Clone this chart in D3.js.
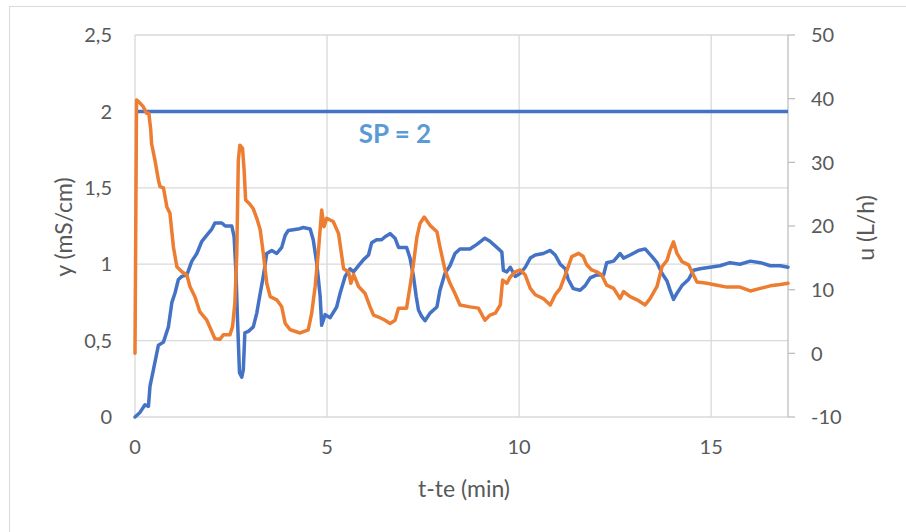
<!DOCTYPE html>
<html>
<head>
<meta charset="utf-8">
<script src="https://cdnjs.cloudflare.com/ajax/libs/d3/7.8.5/d3.min.js"></script>
<style>
	body { margin: 0; background: #fff; }
	text { font-family: Lato, 'Open Sans', sans-serif; fill: #595959; }
</style>
</head>
<body>
<div id="chart"><svg width="906" height="532"></svg></div>
<script>
// time (min) and conductivity y (mS/cm), left axis
var yTime = [0,0.13,0.26,0.35,0.39,0.48,0.61,0.74,0.87,0.96,
	1.04,1.13,1.22,1.35,1.48,1.61,1.74,1.87,2.0,2.08,
	2.26,2.35,2.52,2.58,2.63,2.67,2.72,2.78,2.82,2.86,
	2.95,3.08,3.17,3.26,3.34,3.43,3.56,3.69,3.82,3.91,
	3.99,4.25,4.38,4.56,4.64,4.73,4.82,4.86,4.95,5.08,
	5.25,5.34,5.47,5.6,5.69,5.82,5.95,6.08,6.16,6.29,
	6.42,6.51,6.64,6.77,6.86,7.07,7.16,7.25,7.32,7.38,
	7.46,7.55,7.68,7.86,7.94,8.07,8.2,8.33,8.46,8.72,
	8.9,9.11,9.24,9.42,9.55,9.59,9.68,9.77,9.9,10.03,
	10.16,10.29,10.42,10.63,10.81,10.94,11.07,11.2,11.28,11.41,
	11.59,11.72,11.85,12.02,12.2,12.28,12.46,12.63,12.72,12.89,
	13.11,13.28,13.46,13.59,13.72,13.85,13.93,14.02,14.11,14.24,
	14.41,14.54,14.71,14.97,15.23,15.49,15.75,16.02,16.28,16.54,
	16.8,17.0];
var yValues = [0,0.03,0.08,0.07,0.2,0.31,0.47,0.49,0.59,0.75,
	0.81,0.9,0.92,0.93,1.02,1.07,1.15,1.19,1.23,1.27,
	1.27,1.25,1.25,1.18,0.94,0.63,0.29,0.26,0.31,0.55,
	0.56,0.59,0.68,0.81,0.92,1.07,1.09,1.07,1.11,1.19,
	1.22,1.23,1.24,1.23,1.16,1.01,0.79,0.6,0.67,0.65,
	0.72,0.81,0.92,0.97,0.95,0.99,1.03,1.06,1.14,1.16,
	1.16,1.18,1.2,1.17,1.11,1.11,1.04,0.92,0.79,0.7,
	0.66,0.63,0.68,0.72,0.83,0.94,0.99,1.07,1.1,1.1,
	1.13,1.17,1.15,1.11,1.08,0.96,0.95,0.98,0.92,0.94,
	0.98,1.04,1.06,1.07,1.09,1.06,1.0,0.97,0.9,0.84,
	0.83,0.86,0.91,0.93,0.93,1.01,1.02,1.07,1.04,1.06,
	1.09,1.1,1.05,1.01,0.94,0.89,0.83,0.77,0.81,0.86,
	0.9,0.96,0.97,0.98,0.99,1.01,1.0,1.02,1.01,0.99,
	0.99,0.98];

// time (min) and flow u (L/h), right axis
var uTime = [0,0.04,0.1,0.22,0.3,0.36,0.41,0.43,0.52,0.61,
	0.65,0.74,0.83,0.91,1.0,1.09,1.22,1.35,1.43,1.56,
	1.69,1.87,1.95,2.08,2.21,2.3,2.47,2.54,2.6,2.65,
	2.69,2.73,2.8,2.84,2.88,2.98,3.08,3.17,3.26,3.34,
	3.43,3.52,3.69,3.82,3.91,4.04,4.3,4.51,4.6,4.69,
	4.77,4.86,4.92,4.99,5.16,5.3,5.43,5.56,5.62,5.69,
	5.82,5.99,6.12,6.21,6.34,6.51,6.64,6.77,6.86,7.07,
	7.16,7.25,7.34,7.42,7.53,7.68,7.86,7.94,8.07,8.2,
	8.33,8.46,8.72,8.94,9.11,9.24,9.38,9.51,9.57,9.68,
	9.77,9.9,10.03,10.16,10.29,10.42,10.63,10.81,10.94,11.07,
	11.2,11.37,11.55,11.67,11.76,11.89,12.02,12.15,12.28,12.46,
	12.63,12.72,12.89,13.07,13.28,13.41,13.59,13.72,13.85,13.93,
	14.02,14.11,14.24,14.41,14.54,14.63,14.89,15.15,15.41,15.75,
	16.02,16.28,16.54,16.8,17.0];
var uValues = [0,39.8,39.5,38.7,37.7,37.7,35.1,33,30.3,27.2,
	26.2,26,23,22,16.7,13.6,12.8,12.3,10.5,8.9,
	6.5,5.2,4.1,2.3,2.2,2.9,2.9,4.2,7.9,15.7,
	30.3,32.7,32.2,28.8,24.1,23.5,22.7,21.2,19.4,15.7,
	11,8.9,8.4,7.3,4.7,3.7,3.2,3.7,6.3,10.5,
	15.7,22.5,19.9,21.2,20.7,18.8,13.3,12.8,11,12.4,
	10.5,9.4,7.3,6,5.7,5.2,4.7,5.2,7.1,7.1,
	10.5,14.1,18.3,20.4,21.4,20.1,19.1,16.7,13.1,11,
	9.4,7.6,7.3,7.1,5.2,6,6.3,7.6,11.5,11,
	12,12.8,13.1,12.3,10.2,9.2,8.6,7.6,9.2,10.2,
	12.3,15.2,15.7,15.2,13.9,13.1,12.8,12.3,10.7,10.2,
	8.6,9.7,8.9,8.4,7.6,8.6,10.5,13.6,14.6,16.2,
	17.5,15.7,14.4,13.9,12.3,11.2,11,10.7,10.4,10.4,
	9.8,10.2,10.6,10.8,11];

var setPoint = 2;
var xTicks = [0, 5, 10, 15];
var yTicks = [0, 0.5, 1, 1.5, 2, 2.5];
var uTicks = [-10, 0, 10, 20, 30, 40, 50];

var svg = d3.select('#chart > svg');
var margin = { top: 35, left: 135, bottom: 115, right: 118 };
var width = 906 - margin.left - margin.right;
var height = 532 - margin.top - margin.bottom;

// outer chart border
svg.append('rect')
	.attr('x', 9.5).attr('y', 6.5)
	.attr('width', 920).attr('height', 540)
	.attr('fill', 'none')
	.attr('stroke', '#d9d9d9');

var xScale = d3.scaleLinear().domain([0, 17]).range([0, width]);
var yScale = d3.scaleLinear().domain([0, 2.5]).range([height, 0]);
var uScale = d3.scaleLinear().domain([-10, 50]).range([height, 0]);

var group = svg.append('g')
	.attr('transform', 'translate(' + [margin.left, margin.top] + ')');

// grids
group.selectAll('.y.grid')
	.data(yTicks)
	.enter().append('line')
	.attr('class', 'y grid')
	.attr('x1', 0).attr('x2', width)
	.attr('y1', function(d) { return yScale(d) })
	.attr('y2', function(d) { return yScale(d) })
	.attr('stroke', '#d9d9d9')
	.attr('stroke-width', 1.3);
group.selectAll('.x.grid')
	.data(xTicks)
	.enter().append('line')
	.attr('class', 'x grid')
	.attr('x1', function(d) { return xScale(d) })
	.attr('x2', function(d) { return xScale(d) })
	.attr('y1', 0).attr('y2', height)
	.attr('stroke', '#d9d9d9')
	.attr('stroke-width', 1.3);

// right axis line with ticks
group.append('line')
	.attr('x1', width).attr('x2', width)
	.attr('y1', 0).attr('y2', height)
	.attr('stroke', '#bfbfbf')
	.attr('stroke-width', 1.3);
group.selectAll('.u.tick')
	.data(uTicks)
	.enter().append('line')
	.attr('class', 'u tick')
	.attr('x1', width).attr('x2', width + 7)
	.attr('y1', function(d) { return uScale(d) })
	.attr('y2', function(d) { return uScale(d) })
	.attr('stroke', '#bfbfbf')
	.attr('stroke-width', 1.3);

// tick labels
var comma = d3.formatLocale({ decimal: ',', thousands: '.', grouping: [3], currency: ['', ''] }).format('~g');
group.selectAll('.y.label')
	.data(yTicks)
	.enter().append('text')
	.attr('x', -23)
	.attr('y', function(d) { return yScale(d) })
	.attr('dy', '0.36em')
	.attr('text-anchor', 'end')
	.style('font-size', '20px')
	.text(function(d) { return comma(d) });
group.selectAll('.u.label')
	.data(uTicks)
	.enter().append('text')
	.attr('x', width + 23)
	.attr('y', function(d) { return uScale(d) })
	.attr('dy', '0.36em')
	.style('font-size', '20px')
	.text(function(d) { return d });
group.selectAll('.x.label')
	.data(xTicks)
	.enter().append('text')
	.attr('x', function(d) { return xScale(d) })
	.attr('y', height + 30)
	.attr('dy', '0.36em')
	.attr('text-anchor', 'middle')
	.style('font-size', '20px')
	.text(function(d) { return d });

// axis titles
svg.append('text')
	.attr('transform', 'translate(64,227) rotate(-90)')
	.attr('dy', '0.36em')
	.attr('text-anchor', 'middle')
	.style('font-size', '23px')
	.text('y (mS/cm)');
svg.append('text')
	.attr('transform', 'translate(866,228) rotate(-90)')
	.attr('dy', '0.36em')
	.attr('text-anchor', 'middle')
	.style('font-size', '23px')
	.text('u (L/h)');
svg.append('text')
	.attr('x', 464).attr('y', 489)
	.attr('dy', '0.36em')
	.attr('text-anchor', 'middle')
	.style('font-size', '23px')
	.text('t-te (min)');

// series
var yLine = d3.line()
	.x(function(d, i) { return xScale(yTime[i]) })
	.y(function(d) { return yScale(d) });
var uLine = d3.line()
	.x(function(d, i) { return xScale(uTime[i]) })
	.y(function(d) { return uScale(d) });

group.append('line')
	.attr('x1', xScale(0)).attr('x2', xScale(17))
	.attr('y1', yScale(setPoint)).attr('y2', yScale(setPoint))
	.attr('stroke', '#4472c4')
	.attr('stroke-width', 3.5);

group.append('path')
	.attr('d', yLine(yValues))
	.attr('fill', 'none')
	.attr('stroke', '#4472c4')
	.attr('stroke-width', 3.5)
	.attr('stroke-linejoin', 'round')
	.attr('stroke-linecap', 'round');
group.append('path')
	.attr('d', uLine(uValues))
	.attr('fill', 'none')
	.attr('stroke', '#ed7d31')
	.attr('stroke-width', 3.5)
	.attr('stroke-linejoin', 'round')
	.attr('stroke-linecap', 'round');

svg.append('text')
	.attr('x', 395).attr('y', 134)
	.attr('dy', '0.36em')
	.attr('text-anchor', 'middle')
	.style('font-size', '26px')
	.style('font-weight', 'bold')
	.style('fill', '#5b9bd5')
	.text('SP = ' + setPoint);
</script>
</body>
</html>
